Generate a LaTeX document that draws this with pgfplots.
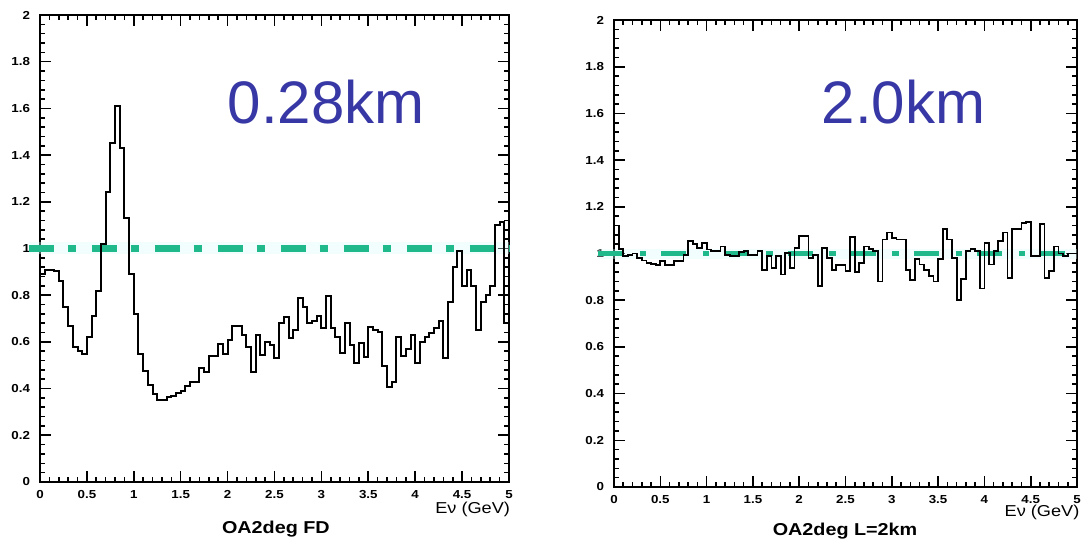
\documentclass[border=0pt]{standalone}
\usepackage{fontspec}
\setmainfont{Liberation Sans}
\newfontfamily\lbl[FakeStretch=1.15]{Liberation Sans}
\usepackage{pgfplots}
\pgfplotsset{compat=1.18}
\definecolor{kmblue}{RGB}{55,55,165}
\definecolor{dashgreen}{RGB}{32,185,140}
\definecolor{halo}{RGB}{215,252,248}
\pgfplotsset{
 rootstyle/.style={
  scale only axis, height=233.5pt,
  xmin=0,xmax=5,ymin=0,ymax=2,
  xtick={0,0.5,1,1.5,2,2.5,3,3.5,4,4.5,5},
  ytick={0,0.2,0.4,0.6,0.8,1,1.2,1.4,1.6,1.8,2},
  minor x tick num=4, minor y tick num=4,
  tick align=inside, xtick pos=both, ytick pos=both,
  major tick length=5.5pt, minor tick length=2.5pt,
  axis line style={line width=0.9pt},
  every tick/.style={black, line width=0.8pt},
  ticklabel style={font=\lbl\bfseries\fontsize{5.8}{6}\selectfont},
  /pgf/number format/assume math mode=true,
  xticklabel style={yshift=-0.5pt},
  yticklabel style={xshift=-1.5pt},
  clip=false,
 }
}
\begin{document}
\begin{tikzpicture}
\useasboundingbox (0,0) rectangle (541.5pt,271pt);
% ---------------- left panel ----------------
\begin{axis}[rootstyle, width=234.5pt, anchor=south west, at={(20pt,30pt)}]
\addplot[halo, line width=6pt, opacity=0.35] coordinates {(-0.12,1) (5,1)};
\addplot[dashgreen, line width=3.2pt, dash pattern=on 12.5pt off 7pt on 4pt off 8pt] coordinates {(-0.12,1) (5,1)};
\addplot[const plot mark left, black, line width=1pt] table {
x y
0.00 0.89
0.05 0.91
0.10 0.91
0.15 0.905
0.20 0.86
0.25 0.75
0.30 0.67
0.35 0.58
0.40 0.56
0.45 0.55
0.50 0.62
0.55 0.71
0.60 0.82
0.65 1.02
0.70 1.24
0.75 1.45
0.80 1.61
0.85 1.43
0.90 1.13
0.95 0.89
1.00 0.72
1.05 0.55
1.10 0.475
1.15 0.415
1.20 0.375
1.25 0.35
1.30 0.35
1.35 0.365
1.40 0.37
1.45 0.38
1.50 0.39
1.55 0.41
1.60 0.43
1.65 0.43
1.70 0.49
1.75 0.47
1.80 0.54
1.85 0.54
1.90 0.59
1.95 0.55
2.00 0.61
2.05 0.67
2.10 0.67
2.15 0.63
2.20 0.58
2.25 0.47
2.30 0.63
2.35 0.544
2.40 0.60
2.45 0.587
2.50 0.53
2.55 0.68
2.60 0.705
2.65 0.615
2.70 0.651
2.75 0.787
2.80 0.748
2.85 0.68
2.90 0.691
2.95 0.711
3.00 0.66
3.05 0.797
3.10 0.658
3.15 0.622
3.20 0.551
3.25 0.683
3.30 0.587
3.35 0.508
3.40 0.594
3.45 0.537
3.50 0.665
3.55 0.653
3.60 0.643
3.65 0.497
3.70 0.408
3.75 0.43
3.80 0.62
3.85 0.54
3.90 0.57
3.95 0.63
4.00 0.51
4.05 0.60
4.10 0.62
4.15 0.64
4.20 0.66
4.25 0.69
4.30 0.53
4.35 0.77
4.40 0.92
4.45 0.99
4.50 0.84
4.55 0.91
4.60 0.84
4.65 0.65
4.70 0.77
4.75 0.80
4.80 0.84
4.85 1.10
4.90 1.115
4.95 0.68
5.00 0.68
};
\node[font=\fontsize{30}{32}\selectfont, text=kmblue] at (axis cs:3.05,1.627) {0.28km};
\node[anchor=north east, inner sep=0pt, font=\lbl\fontsize{7.9}{8}\selectfont] at (rel axis cs:1.003,0) [yshift=-10pt] {Eν (GeV)};
\node[anchor=north, inner sep=0pt, font=\lbl\bfseries\fontsize{8.6}{9}\selectfont] at (rel axis cs:0.503,0) [yshift=-19.5pt] {OA2deg FD};
\end{axis}
% ---------------- right panel ----------------
\begin{axis}[rootstyle, width=231.5pt, anchor=south west, at={(307pt,27.5pt)}]
\addplot[halo, line width=5pt, opacity=0.35] coordinates {(-0.173,1) (5,1)};
\addplot[dashgreen, line width=2.2pt, dash pattern=on 12.5pt off 8.3pt on 3.3pt off 7.5pt] coordinates {(-0.173,1) (5,1)};
\addplot[const plot mark left, black, line width=0.9pt] table {
x y
0.00 1.12
0.05 1.02
0.10 0.99
0.15 0.995
0.20 1.00
0.25 0.98
0.30 0.97
0.35 0.96
0.40 0.955
0.45 0.95
0.50 0.967
0.55 0.95
0.60 0.95
0.65 0.967
0.70 0.967
0.75 0.995
0.80 1.053
0.85 1.04
0.90 1.024
0.95 1.045
1.00 1.017
1.05 1.01
1.10 1.01
1.15 1.03
1.20 0.995
1.25 0.99
1.30 0.988
1.35 1.006
1.40 1.01
1.45 0.995
1.50 0.995
1.55 1.01
1.60 0.93
1.65 0.988
1.70 0.938
1.75 0.99
1.80 0.91
1.85 1.003
1.90 0.938
1.95 1.024
2.00 1.074
2.05 1.074
2.10 0.98
2.15 0.995
2.20 0.86
2.25 1.024
2.30 0.98
2.35 0.93
2.40 0.95
2.45 0.95
2.50 0.925
2.55 1.07
2.60 0.92
2.65 0.96
2.70 1.03
2.75 1.02
2.80 1.01
2.85 0.88
2.90 1.06
2.95 1.09
3.00 1.065
3.05 1.06
3.10 1.06
3.15 0.93
3.20 0.887
3.25 0.975
3.30 0.953
3.35 0.93
3.40 0.903
3.45 0.88
3.50 0.975
3.55 1.105
3.60 1.06
3.65 0.98
3.70 0.80
3.75 0.89
3.80 1.01
3.85 1.02
3.90 1.01
3.95 0.85
4.00 1.045
4.05 0.953
4.10 1.01
4.15 1.055
4.20 1.09
4.25 0.895
4.30 1.105
4.35 1.105
4.40 1.13
4.45 1.135
4.50 0.99
4.55 0.99
4.60 1.125
4.65 0.895
4.70 0.925
4.75 1.03
4.80 1.00
4.85 0.99
4.90 1.00
4.95 1.00
5.00 1.00
};
\node[font=\fontsize{30}{32}\selectfont, text=kmblue] at (axis cs:3.126,1.649) {2.0km};
\node[anchor=north east, inner sep=0pt, font=\lbl\fontsize{7.9}{8}\selectfont] at (rel axis cs:1.006,0) [yshift=-9pt] {Eν (GeV)};
\node[anchor=north, inner sep=0pt, font=\lbl\bfseries\fontsize{8.6}{9}\selectfont] at (rel axis cs:0.499,0) [yshift=-18pt] {OA2deg L=2km};
\end{axis}
\end{tikzpicture}
\end{document}
